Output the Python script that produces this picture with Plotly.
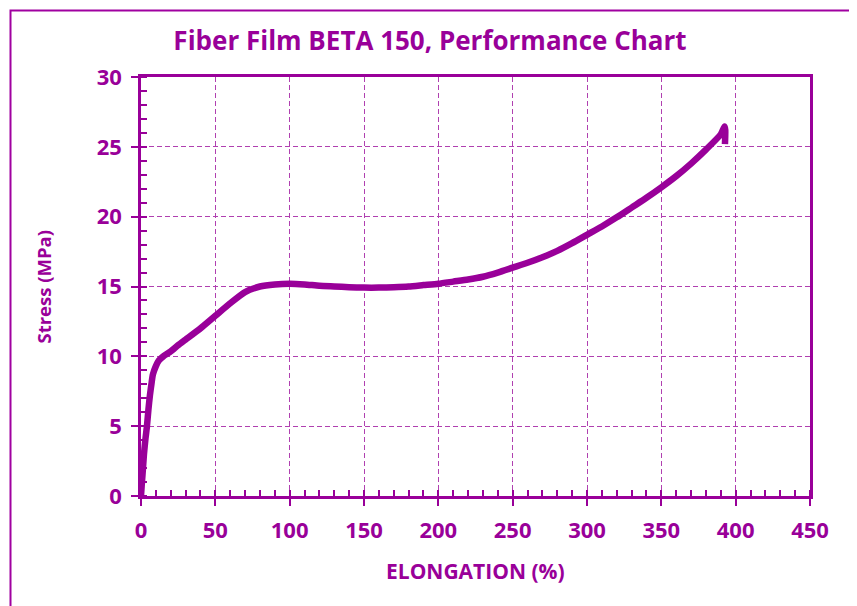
import plotly.graph_objects as go

elongation = [0, 0.5, 1, 2, 3, 4, 5, 6, 7, 8, 10, 12, 15, 20, 25, 30, 40, 50, 60, 70, 80, 90,
              100, 110, 120, 130, 140, 150, 160, 170, 180, 190, 200, 210, 220, 230, 240, 250,
              260, 270, 280, 290, 300, 310, 320, 330, 340, 350, 360, 370, 380, 390, 392.5, 393, 392.8]
stress = [0, 0.8, 1.5, 3.0, 4.1, 5.0, 6.2, 7.2, 8.0, 8.7, 9.3, 9.7, 10.0, 10.35, 10.8, 11.2, 12.0, 12.9,
          13.8, 14.6, 15.0, 15.15, 15.2, 15.15, 15.05, 15.0, 14.95, 14.92, 14.92, 14.95, 15.0, 15.1,
          15.2, 15.35, 15.5, 15.7, 16.0, 16.35, 16.7, 17.1, 17.55, 18.1, 18.7, 19.3, 19.95, 20.65,
          21.35, 22.1, 22.9, 23.8, 24.8, 25.9, 26.45, 26.2, 25.2]

title_text = "Fiber Film BETA 150, Performance Chart"
x_title = "ELONGATION (%)"
y_title = "Stress (MPa)"

purple = "#990099"
grid_col = "#b040b0"
font_family = "Open Sans, Lato, sans-serif"

# plot-area geometry in figure pixels
L, T, PW, PH = 133, 69, 669, 419
W, H = 857, 606

fig = go.Figure()
fig.add_trace(go.Scatter(
    x=elongation, y=stress, mode="lines",
    line=dict(color=purple, width=6.5, shape="spline", smoothing=0.6),
    hoverinfo="x+y", showlegend=False,
))

axis_common = dict(
    showline=True, linecolor=purple, linewidth=2.5, mirror=True,
    showgrid=True, gridcolor=grid_col, gridwidth=1, griddash="5px,3px",
    ticks="outside", ticklen=7, tickwidth=2, tickcolor=purple,
    tickfont=dict(family=font_family, size=22, color=purple, weight="bold"),
    zeroline=False,
)

fig.update_xaxes(
    range=[0, 450], dtick=50, tick0=0, ticklabelstandoff=6,
    minor=dict(dtick=10, ticks="inside", ticklen=6, tickwidth=1.5, tickcolor=purple, showgrid=False),
    **axis_common,
)
fig.update_yaxes(
    range=[0, 30], dtick=5, tick0=0, ticklabelstandoff=5,
    minor=dict(dtick=1, ticks="inside", ticklen=6, tickwidth=1.5, tickcolor=purple, showgrid=False),
    **axis_common,
)

fig.update_layout(
    width=W, height=H,
    margin=dict(l=L, r=W - L - PW, t=T, b=H - T - PH),
    paper_bgcolor="white", plot_bgcolor="white",
    title=dict(text=title_text, x=(422 - L) / PW, xref="paper", xanchor="center",
               y=1 - 32.5 / H, yanchor="middle",
               font=dict(family=font_family, size=26, color=purple, weight="bold")),
    annotations=[
        dict(text=x_title, xref="paper", yref="paper", x=0.5, y=(T + PH - 563) / PH,
             xanchor="center", yanchor="middle", showarrow=False,
             font=dict(family=font_family, size=21, color=purple, weight="bold")),
        dict(text=y_title, xref="paper", yref="paper", x=(35 - L) / PW, y=0.5,
             xanchor="center", yanchor="middle", showarrow=False, textangle=-90,
             font=dict(family=font_family, size=18.5, color=purple, weight="bold")),
    ],
    shapes=[dict(type="rect", xref="paper", yref="paper",
                 x0=(2.5 - L) / PW, x1=(842 - L) / PW,
                 y0=(T + PH - 660) / PH, y1=(T + PH - 2.5) / PH,
                 line=dict(color="#a000a0", width=2), layer="below")],
)

fig.write_html("out.html")
